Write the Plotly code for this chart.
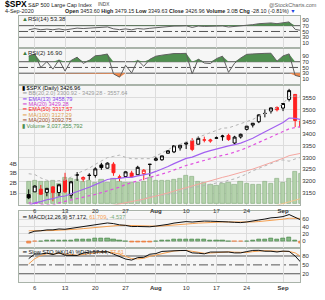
import plotly.graph_objects as go
import numpy as np

# ---------------- data ----------------
dates = ["2020-07-02", "2020-07-06", "2020-07-07", "2020-07-08", "2020-07-09", "2020-07-10",
         "2020-07-13", "2020-07-14", "2020-07-15", "2020-07-16", "2020-07-17",
         "2020-07-20", "2020-07-21", "2020-07-22", "2020-07-23", "2020-07-24",
         "2020-07-27", "2020-07-28", "2020-07-29", "2020-07-30", "2020-07-31",
         "2020-08-03", "2020-08-04", "2020-08-05", "2020-08-06", "2020-08-07",
         "2020-08-10", "2020-08-11", "2020-08-12", "2020-08-13", "2020-08-14",
         "2020-08-17", "2020-08-18", "2020-08-19", "2020-08-20", "2020-08-21",
         "2020-08-24", "2020-08-25", "2020-08-26", "2020-08-27", "2020-08-28",
         "2020-08-31", "2020-09-01", "2020-09-02", "2020-09-03", "2020-09-04"]
opens = [3143.64, 3155.29, 3166.44, 3153.07, 3176.17, 3152.47, 3205.08, 3141.11, 3225.98, 3208.36, 3224.21,
         3224.29, 3268.52, 3254.86, 3271.64, 3218.58, 3219.84, 3234.27, 3227.22, 3231.76, 3270.45,
         3288.26, 3289.92, 3317.37, 3323.17, 3340.05, 3356.04, 3370.34, 3355.46, 3372.95, 3368.66,
         3380.86, 3387.04, 3392.51, 3360.48, 3386.01, 3418.09, 3435.95, 3449.97, 3485.14, 3494.69,
         3509.73, 3507.44, 3543.76, 3564.74, 3453.60]
highs = [3165.81, 3182.59, 3184.15, 3171.80, 3179.78, 3186.82, 3235.32, 3200.95, 3238.28, 3220.39, 3233.52,
         3258.61, 3277.29, 3279.32, 3279.99, 3227.26, 3241.43, 3243.72, 3264.74, 3250.92, 3272.17,
         3302.73, 3306.84, 3330.77, 3351.03, 3352.54, 3363.29, 3381.01, 3387.89, 3387.24, 3378.51,
         3387.59, 3395.06, 3399.54, 3390.80, 3399.96, 3432.09, 3444.21, 3481.07, 3501.38, 3509.23,
         3514.77, 3528.03, 3588.11, 3564.85, 3479.15]
lows = [3124.52, 3155.29, 3142.93, 3136.53, 3115.70, 3136.22, 3149.43, 3127.66, 3200.76, 3198.59, 3205.65,
        3215.16, 3247.77, 3253.10, 3222.66, 3200.05, 3214.25, 3216.17, 3227.22, 3204.13, 3220.26,
        3284.53, 3286.37, 3317.37, 3318.14, 3328.72, 3335.44, 3326.44, 3355.46, 3363.35, 3361.64,
        3379.22, 3370.15, 3369.66, 3354.69, 3379.31, 3413.13, 3425.84, 3444.15, 3468.35, 3484.32,
        3493.25, 3494.60, 3535.23, 3427.41, 3349.63]
closes = [3130.01, 3179.72, 3145.32, 3169.94, 3152.05, 3185.04, 3155.22, 3197.52, 3226.56, 3215.57, 3224.73,
          3251.84, 3257.30, 3276.02, 3235.66, 3215.63, 3239.41, 3218.44, 3258.44, 3246.22, 3271.12,
          3294.61, 3306.51, 3327.77, 3349.16, 3351.28, 3360.47, 3333.69, 3380.35, 3373.43, 3372.85,
          3381.99, 3389.78, 3374.85, 3385.51, 3397.16, 3431.28, 3443.62, 3478.73, 3484.55, 3508.01,
          3500.31, 3526.65, 3580.84, 3455.06, 3426.96]
prior_close = 3115.86
volume_bn = [2.2, 2.3, 2.2, 2.2, 2.3, 2.0, 2.6, 2.5, 2.4, 2.2, 2.3,
             2.1, 2.4, 2.1, 2.5, 2.2, 2.1, 2.1, 2.1, 2.2, 2.6,
             2.3, 2.3, 2.3, 2.4, 2.5, 2.8, 2.7, 2.2, 2.1, 1.9,
             1.8, 2.0, 2.1, 1.9, 2.2, 2.0, 1.9, 1.9, 2.2, 2.0,
             2.5, 2.1, 2.5, 3.2, 3.0]
bb_upper = [3231.4, 3228.1, 3213.8, 3203.9, 3200.0, 3201.8, 3204.8, 3217.4, 3232.5, 3243.6, 3254.5,
            3270.8, 3283.7, 3299.0, 3304.2, 3309.6, 3300.4, 3294.6, 3294.5, 3295.0, 3294.9,
            3305.8, 3317.9, 3331.8, 3347.6, 3354.4, 3366.2, 3371.0, 3384.7, 3394.6, 3404.8,
            3412.5, 3423.1, 3424.1, 3433.6, 3441.9, 3450.3, 3459.5, 3472.5, 3484.4, 3498.7,
            3508.6, 3525.6, 3556.2, 3557.5, 3557.7]
bb_lower = [2986.2, 2988.1, 2993.8, 2999.9, 3000.0, 3016.6, 3024.8, 3025.4, 3020.5, 3019.6, 3019.7,
            3018.8, 3019.7, 3019.0, 3032.2, 3040.0, 3072.4, 3094.6, 3110.5, 3123.0, 3137.3,
            3137.8, 3141.9, 3143.8, 3147.6, 3157.6, 3166.2, 3175.0, 3176.7, 3182.6, 3187.2,
            3192.5, 3195.1, 3204.1, 3209.6, 3219.5, 3230.3, 3243.5, 3252.5, 3264.4, 3273.9,
            3284.6, 3289.6, 3284.2, 3293.5, 3300.9]
ma20 = [3108.83, 3108.12, 3103.77, 3101.91, 3100.00, 3109.15, 3114.84, 3121.39, 3126.48, 3131.59, 3137.06,
        3144.76, 3151.73, 3158.97, 3168.24, 3174.83, 3186.35, 3194.61, 3202.51, 3209.03, 3216.09,
        3221.83, 3229.89, 3237.78, 3247.64, 3255.95, 3266.21, 3273.02, 3280.71, 3288.60, 3296.01,
        3302.52, 3309.14, 3314.08, 3321.58, 3330.65, 3340.25, 3351.50, 3362.52, 3374.44, 3386.28,
        3396.57, 3407.57, 3420.23, 3425.52, 3429.30]
ema13 = [3097.24, 3109.02, 3114.21, 3122.17, 3126.44, 3134.81, 3137.73, 3146.27, 3157.74, 3166.00, 3174.39,
         3185.45, 3195.71, 3207.18, 3211.25, 3211.88, 3215.81, 3216.19, 3222.23, 3225.66, 3232.15,
         3241.07, 3250.42, 3261.47, 3274.00, 3285.04, 3295.82, 3301.23, 3312.53, 3321.23, 3328.60,
         3336.23, 3343.88, 3348.30, 3353.62, 3359.84, 3370.05, 3380.56, 3394.58, 3407.43, 3421.80,
         3433.02, 3446.40, 3465.61, 3464.10, 3458.79]
ema50 = [3016.26, 3022.67, 3027.48, 3033.07, 3037.74, 3043.52, 3047.90, 3053.77, 3060.55, 3066.63, 3072.83,
         3079.85, 3086.81, 3094.23, 3099.78, 3104.32, 3109.62, 3113.89, 3119.56, 3124.53, 3130.28,
         3136.72, 3143.38, 3150.61, 3158.40, 3165.96, 3173.59, 3179.87, 3187.73, 3195.01, 3201.98,
         3209.04, 3216.13, 3222.35, 3228.75, 3235.35, 3243.03, 3250.90, 3259.83, 3268.64, 3278.03,
         3286.75, 3296.16, 3307.32, 3313.11, 3317.57]
ma100_dates = ["2020-08-28", "2020-08-31", "2020-09-01", "2020-09-02", "2020-09-03", "2020-09-04"]
ma100 = [3092.0, 3099.0, 3106.0, 3114.0, 3121.0, 3127.29]
rsi14 = [55.8, 59.9, 56.0, 58.1, 56.0, 58.9, 55.3, 59.2, 61.6, 60.1, 61.0,
         63.4, 63.9, 65.6, 59.1, 56.2, 58.8, 55.7, 60.1, 58.2, 60.9,
         63.3, 64.5, 66.6, 68.6, 68.8, 69.7, 63.9, 68.8, 67.3, 67.2,
         68.2, 69.1, 65.4, 66.8, 68.3, 72.2, 73.5, 76.8, 77.3, 79.3,
         76.9, 79.2, 82.9, 57.3, 53.38]
rsi2 = [90.1, 96.8, 49.8, 70.4, 44.1, 76.5, 37.4, 74.4, 85.9, 64.1, 74.8,
        90.9, 92.7, 97.0, 27.6, 16.1, 57.8, 30.8, 75.1, 54.0, 78.5,
        89.3, 92.9, 96.8, 98.5, 98.6, 99.2, 27.4, 79.4, 65.5, 63.6,
        80.8, 89.4, 33.0, 64.7, 82.7, 95.7, 97.2, 99.1, 99.2, 99.7,
        71.8, 90.3, 97.4, 22.2, 16.9]
macd = [22.0, 27.3, 28.4, 30.8, 30.9, 33.3, 32.5, 34.8, 38.5, 40.1, 41.6,
        44.6, 46.8, 49.4, 47.7, 44.3, 43.0, 39.8, 40.0, 38.7, 39.2,
        41.0, 43.0, 45.7, 49.1, 51.3, 53.1, 51.9, 54.0, 54.5, 54.2,
        54.2, 54.1, 52.2, 51.1, 50.4, 52.1, 53.8, 57.4, 59.9, 63.2,
        64.3, 66.6, 72.0, 65.3, 57.17]
macd_signal = [28.34, 28.13, 28.18, 28.70, 29.14, 29.97, 30.48, 31.34, 32.77, 34.24, 35.71,
               37.49, 39.35, 41.36, 42.63, 42.96, 42.97, 42.34, 41.87, 41.24, 40.83,
               40.86, 41.29, 42.17, 43.56, 45.11, 46.71, 47.75, 49.00, 50.10, 50.92,
               51.58, 52.08, 52.10, 51.90, 51.60, 51.70, 52.12, 53.18, 54.52, 56.26,
               57.87, 59.62, 62.10, 62.74, 61.71]
macd_hist = [-6.3, -0.8, 0.2, 2.1, 1.8, 3.3, 2.0, 3.5, 5.7, 5.9, 5.9,
             7.1, 7.5, 8.0, 5.1, 1.3, 0.0, -2.5, -1.9, -2.5, -1.6,
             0.1, 1.7, 3.5, 5.5, 6.2, 6.4, 4.1, 5.0, 4.4, 3.3,
             2.6, 2.0, 0.1, -0.8, -1.2, 0.4, 1.7, 4.2, 5.4, 6.9,
             6.4, 7.0, 9.9, 2.6, -4.54]
sto_k = [71.2, 86.5, 86.5, 89.9, 84.6, 91.3, 82.5, 83.0, 81.7, 89.9, 93.3,
         93.9, 93.2, 94.5, 86.5, 77.3, 69.7, 66.2, 74.6, 75.4, 86.0,
         88.1, 95.4, 96.5, 98.7, 98.5, 98.7, 90.5, 89.4, 87.3, 93.3,
         93.6, 95.3, 93.4, 90.4, 90.5, 94.9, 98.8, 99.1, 96.1, 96.1,
         93.6, 96.5, 95.7, 79.7, 57.44]
sto_d = [53.2, 70.8, 81.4, 87.6, 87.0, 88.6, 86.1, 85.6, 82.4, 84.9, 88.3,
         92.4, 93.5, 93.9, 91.4, 86.1, 77.8, 71.1, 70.2, 72.1, 78.7,
         83.2, 89.8, 93.3, 96.9, 97.9, 98.6, 95.9, 92.9, 89.1, 90.0,
         91.4, 94.1, 94.1, 93.0, 91.4, 91.9, 94.7, 97.6, 98.0, 97.1,
         95.3, 95.4, 95.3, 90.6, 77.61]
tick_dates = ["2020-07-06", "2020-07-13", "2020-07-20", "2020-07-27", "2020-08-03",
              "2020-08-10", "2020-08-17", "2020-08-24", "2020-09-01"]
tick_labels = ["6", "13", "20", "27", "<b>Aug</b>", "10", "17", "24", "<b>Sep</b>"]

# ---------------- geometry helpers ----------------
W, H = 325, 300
ML, MR, MT, MB = 16, 22, 16, 9
PW, PH = W - ML - MR, H - MT - MB


def py(y):
    return (H - MB - y) / PH


def px(x):
    return (x - ML) / PW


n = len(dates)
xi = list(range(n))
tickvals = [dates.index(d) for d in tick_dates]
xr = [-1.6, 44.8]

FONT = "Liberation Sans, Arial, sans-serif"
GRID = "#dcdcdc"
BORDER = "#a9b3a9"
BG = "#f6f6f6"
RED = "#ff2020"

fig = go.Figure()

# ---- volume (base axis of main panel) ----
fig.add_trace(go.Bar(x=xi, y=volume_bn, xaxis="x3", yaxis="y3", width=0.72,
                     marker=dict(color="#b4d2ac", line=dict(color="#7fa877", width=0.6)),
                     hoverinfo="skip", showlegend=False))


# ---- moving averages / bands on price axis ----
def line(y, color, dash="solid", width=1.0, xs=None):
    fig.add_trace(go.Scatter(x=xs if xs is not None else xi, y=y, mode="lines", xaxis="x3", yaxis="y4",
                             line=dict(color=color, width=width, dash=dash),
                             hoverinfo="skip", showlegend=False))


line(bb_upper, "#b4b4b4", "dot")
line(bb_lower, "#b4b4b4", "dot")
line(ema50, "#f4a6a0")
line(ma100, "#f2c48e", xs=[dates.index(d) for d in ma100_dates])
line(ma20, "#e050e0", "dot", 1.2)
line(ema13, "#a260f0", "solid", 1.2)

# ---- candles: black if close >= previous close, red otherwise ----
prev = [prior_close] + closes[:-1]
for col in ("black", "red"):
    idx = [i for i in range(n) if (closes[i] >= prev[i]) == (col == "black")]
    c = "#000000" if col == "black" else RED
    fig.add_trace(go.Candlestick(
        x=[xi[i] for i in idx], open=[opens[i] for i in idx], high=[highs[i] for i in idx],
        low=[lows[i] for i in idx], close=[closes[i] for i in idx], xaxis="x3", yaxis="y4",
        increasing=dict(line=dict(color=c, width=1), fillcolor="#ffffff"),
        decreasing=dict(line=dict(color=c, width=1), fillcolor=c),
        whiskerwidth=0, hoverinfo="skip", showlegend=False))


# ---- RSI panels ----
def rsi_panel(vals, xa, ya):
    clear = dict(width=0, color="rgba(0,0,0,0)")
    fig.add_trace(go.Scatter(x=xi, y=[70] * n, mode="lines", line=clear,
                             xaxis=xa, yaxis=ya, hoverinfo="skip", showlegend=False))
    fig.add_trace(go.Scatter(x=xi, y=list(np.maximum(vals, 70)), mode="lines", fill="tonexty",
                             fillcolor="#4f8f4f", line=clear,
                             xaxis=xa, yaxis=ya, hoverinfo="skip", showlegend=False))
    fig.add_trace(go.Scatter(x=xi, y=[30] * n, mode="lines", line=clear,
                             xaxis=xa, yaxis=ya, hoverinfo="skip", showlegend=False))
    fig.add_trace(go.Scatter(x=xi, y=list(np.minimum(vals, 30)), mode="lines", fill="tonexty",
                             fillcolor="#f5894a", line=clear,
                             xaxis=xa, yaxis=ya, hoverinfo="skip", showlegend=False))
    fig.add_trace(go.Scatter(x=xi, y=vals, mode="lines", line=dict(color="#606060", width=1),
                             xaxis=xa, yaxis=ya, hoverinfo="skip", showlegend=False))


rsi_panel(rsi14, "x5", "y6")
rsi_panel(rsi2, "x4", "y5")

# ---- MACD ----
fig.add_trace(go.Bar(x=xi, y=macd_hist, xaxis="x2", yaxis="y2", width=0.7,
                     marker=dict(color=["#86b886" if v >= 0 else "#f59a62" for v in macd_hist],
                                 line=dict(color=["#3f7f3f" if v >= 0 else "#e8702e" for v in macd_hist],
                                           width=0.6)),
                     hoverinfo="skip", showlegend=False))
fig.add_trace(go.Scatter(x=xi, y=macd_signal, mode="lines", line=dict(color="#f5a050", width=1),
                         xaxis="x2", yaxis="y2", hoverinfo="skip", showlegend=False))
fig.add_trace(go.Scatter(x=xi, y=macd, mode="lines", line=dict(color="#111111", width=1),
                         xaxis="x2", yaxis="y2", hoverinfo="skip", showlegend=False))

# ---- Slow stochastics ----
fig.add_trace(go.Scatter(x=xi, y=sto_d, mode="lines", line=dict(color="#f5a050", width=1),
                         xaxis="x", yaxis="y", hoverinfo="skip", showlegend=False))
fig.add_trace(go.Scatter(x=xi, y=sto_k, mode="lines", line=dict(color="#111111", width=1),
                         xaxis="x", yaxis="y", hoverinfo="skip", showlegend=False))

# ---------------- layout ----------------
tickfont = dict(family=FONT, size=6, color="#333333")


def xax(anchor, labels):
    d = dict(anchor=anchor, domain=[0, 1], range=xr, tickmode="array", tickvals=tickvals,
             ticktext=tick_labels, showticklabels=labels, tickfont=tickfont, ticks="",
             showgrid=True, gridcolor=GRID, gridwidth=1, zeroline=False,
             showline=True, mirror=True, linecolor=BORDER, linewidth=1, fixedrange=True)
    if anchor != "y":
        d["matches"] = "x"
    return d


def yax(dom, rng, tv, tt=None, side="right", grid=False, **kw):
    d = dict(domain=dom, range=rng, tickmode="array", tickvals=tv, side=side,
             tickfont=tickfont, ticks="", showgrid=grid, gridcolor=GRID, zeroline=False,
             showline=True, mirror=True, linecolor=BORDER, linewidth=1, fixedrange=True)
    if tt is not None:
        d["ticktext"] = tt
    d.update(kw)
    return d


rsi_ticks = [10, 30, 50, 70, 90]
layout = dict(
    width=W, height=H, autosize=False,
    margin=dict(l=ML, r=MR, t=MT, b=MB, pad=0),
    paper_bgcolor="#ffffff", plot_bgcolor=BG,
    font=dict(family=FONT, size=6, color="#222222"),
    showlegend=False, bargap=0,
    xaxis=xax("y", True),
    xaxis2=xax("y2", False),
    xaxis3=dict(xax("y3", True), rangeslider=dict(visible=False)),
    xaxis4=xax("y5", False),
    xaxis5=xax("y6", False),
    yaxis=yax([py(291), py(256)], [-7.8, 106.5], [20, 50, 80], anchor="x"),
    yaxis2=yax([py(256), py(218)], [-18.2, 80.5], [0, 20, 40, 60], grid=True, anchor="x2"),
    yaxis3=yax([py(211), py(87)], [-0.136, 11.9], [1, 2, 3, 4], ["1B", "2B", "3B", "4B"],
               side="left", anchor="x3"),
    yaxis4=yax([py(211), py(87)], [3101.6, 3605.7], list(range(3150, 3551, 50)), grid=True,
               overlaying="y3", anchor="x3"),
    yaxis5=yax([py(87), py(49)], [-10.1, 118.2], rsi_ticks, anchor="x4"),
    yaxis6=yax([py(49), py(16)], [-6.7, 103.3], rsi_ticks, anchor="x5"),
)
fig.update_layout(**layout)

# reference lines of the oscillator panels
shapes = []
for ya, levels in (("y6", (30, 70)), ("y5", (30, 70)), ("y", (20, 80))):
    for lv in levels:
        shapes.append(dict(type="line", xref="paper", x0=0, x1=1, yref=ya, y0=lv, y1=lv,
                           line=dict(color="#555555", width=1), layer="below"))
    shapes.append(dict(type="line", xref="paper", x0=0, x1=1, yref=ya, y0=50, y1=50,
                       line=dict(color="#555555", width=1, dash="dashdot"), layer="below"))
fig.update_layout(shapes=shapes)

# ---------------- texts ----------------
ann = []


def text(xp, yp, s, size=6, color="#222222", anchor="left"):
    ann.append(dict(x=px(xp), y=py(yp), xref="paper", yref="paper", text=s, showarrow=False,
                    xanchor=anchor, yanchor="middle", font=dict(family=FONT, size=size, color=color)))


text(0, 4, "<b>$SPX</b>", 8.5, "#000000")
text(23, 4.5, "S&P 500 Large Cap Index", 5.5, "#222222")
text(95, 4.5, "INDX", 4.8, "#444444")
text(322, 4.5, "@StockCharts.com", 5.5, "#666666", "right")
text(0, 11, "4-Sep-2020", 5.5, "#222222")
text(61, 11, "<b>Open</b> 3453.60 <b>High</b> 3479.15 <b>Low</b> 3349.63 <b>Close</b> 3426.96 "
             "<b>Volume</b> 3.0B <b>Chg</b> -28.10 (-0.81%) <span style='color:#2040e0'>▼</span>",
     5.4, "#222222")

text(17, 19, "<span style='color:#3d7a3d'>▲</span>RSI(14) 53.38", 6, "#222222")
text(17, 54.5, "<span style='color:#3d7a3d'>▲</span>RSI(2) 16.90", 6, "#222222")

legend_rows = [
    ("#000000", "<span style='color:#000'>▮</span> $SPX (Daily) 3426.96"),
    ("#9a9a9a", "━ BB(20,2.0) 3300.92 - 3429.28 - 3557.64"),
    ("#8a3ff0", "━ EMA(13) 3458.79"),
    ("#d040d0", "━ MA(20) 3429.28"),
    ("#ff2020", "━ EMA(50) 3317.57"),
    ("#e0a050", "━ MA(100) 3127.29"),
    ("#a0522d", "━ MA(200) 3092.75"),
    ("#4f8f4f", "<span style='color:#4f8f4f'>▮</span> Volume 3,037,355,792"),
]
for k, (c, s) in enumerate(legend_rows):
    text(17, 90 + k * 5.65, s, 5.6, c)

text(17, 224, "━ MACD(12,26,9) 57.172, <span style='color:#f5a050'>61.709</span>, "
              "<span style='color:#77aa77'>-4.537</span>", 5.6, "#111111")
text(17, 260, "━ Slow STO %K(14) %D(3) 57.44, <span style='color:#f5a050'>77.61</span>", 5.6, "#111111")

fig.update_layout(annotations=ann)

fig.write_html("out.html", include_plotlyjs=True, full_html=True, config={"displayModeBar": False})
